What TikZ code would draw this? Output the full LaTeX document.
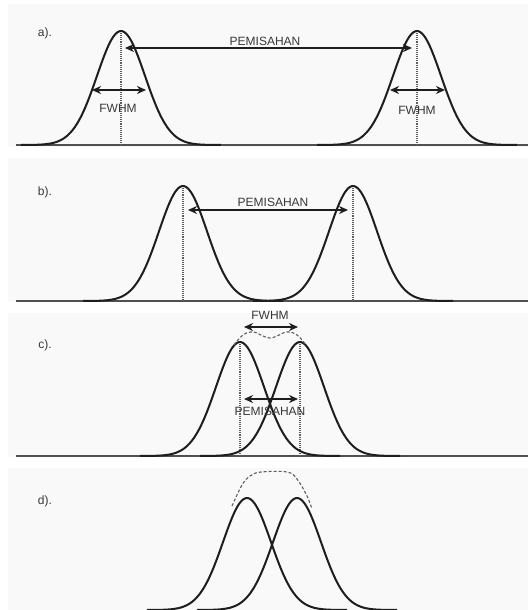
\documentclass[tikz,border=0pt]{standalone}
\usepackage{fontspec}
\setmainfont{Liberation Sans}
\usepackage{xcolor}
\usepackage{tikz}
\usetikzlibrary{arrows.meta}
\definecolor{PanelGray}{RGB}{249,249,249}
\definecolor{CurveBlack}{RGB}{30,30,30}
\definecolor{AxisGray}{RGB}{80,80,80}
\definecolor{TextGray}{RGB}{55,55,55}
\definecolor{GuideGray}{RGB}{95,95,95}

\begin{document}
\begin{tikzpicture}[
  x=1pt, y=-1pt,
  font=\fontsize{12}{14}\selectfont,
  panel/.style={fill=PanelGray, draw=none},
  axis/.style={draw=AxisGray, line width=1.5pt},
  peak/.style={draw=CurveBlack, line width=2pt},
  guide/.style={draw=GuideGray, densely dotted, line width=1.1pt},
  envelope/.style={draw=GuideGray, densely dashed, line width=1.1pt},
  label/.style={text=TextGray, inner sep=1pt},
  arrow/.style={{Stealth[length=9pt,width=8pt]}-{Stealth[length=9pt,width=8pt]}, line width=1.5pt, draw=CurveBlack}
]
\useasboundingbox (0,0) rectangle (528,610);

% panels
\fill[panel] (8,4) rectangle (528,147);
\fill[panel] (8,158) rectangle (528,302);
\fill[panel] (8,313) rectangle (528,457);
\fill[panel] (8,468) rectangle (528,610);

% baselines
\draw[axis] (16,145) -- (528,145);
\draw[axis] (16,301) -- (528,301);
\draw[axis] (16,456) -- (528,456);

% dotted guides
\draw[guide] (121,31) -- (121,145);
\draw[guide] (417,31) -- (417,145);
\draw[guide] (183,186) -- (183,301);
\draw[guide] (353,186) -- (353,301);
\draw[guide] (240,342) -- (240,456);
\draw[guide] (300,342) -- (300,456);

% peaks: centre/baseline/height
\foreach \m/\b/\h in {121/145/114, 417/145/114, 183/301/115, 353/301/115,
                      240/456/114, 300/456/114, 247/610/112, 297/610/112}
  \draw[peak] plot[domain=\m-100:\m+100, samples=90, smooth]
    (\x, {\b-\h*exp(-((\x-\m)^2)/(2*24^2))});

% envelopes
\draw[envelope] plot[smooth, tension=0.7] coordinates
  {(234,345) (243,335) (253,332) (263,336) (270,338) (277,336) (287,332) (297,335) (306,345)};
\draw[envelope] plot[smooth, tension=0.6] coordinates
  {(232,506) (242,485) (250,476) (261,472) (287,472) (297,479) (307,496) (312,509)};

% panel labels
\node[label] (tagA) at (45,33) {a).};
\node[label] (tagB) at (45,192) {b).};
\node[label] (tagC) at (45,345) {c).};
\node[label] (tagD) at (45,501) {d).};

% arrow ends
\coordinate (sepAl) at (125,48);  \coordinate (sepAr) at (412,48);
\coordinate (fwAl) at (92,90);    \coordinate (fwAr) at (146,90);
\coordinate (fwBl) at (390,90);   \coordinate (fwBr) at (445,90);
\coordinate (sepBl) at (188,210); \coordinate (sepBr) at (348,210);
\coordinate (fwCl) at (244,327);  \coordinate (fwCr) at (298,327);
\coordinate (sepCl) at (244,399); \coordinate (sepCr) at (298,399);

\draw[arrow] (sepAl) -- (sepAr);
\draw[arrow] (fwAl) -- (fwAr);
\draw[arrow] (fwBl) -- (fwBr);
\draw[arrow] (sepBl) -- (sepBr);
\draw[arrow] (fwCl) -- (fwCr);
\draw[arrow] (sepCl) -- (sepCr);

% texts
\node[label] (sepA) at (265,41) {PEMISAHAN};
\node[label] (fwhmA) at (118,108) {FWHM};
\node[label] (fwhmB) at (417,110) {FWHM};
\node[label] (sepB) at (273,202) {PEMISAHAN};
\node[label] (fwhmC) at (270,315) {FWHM};
\node[label] (sepC) at (270,411) {PEMISAHAN};
\end{tikzpicture}
\end{document}
